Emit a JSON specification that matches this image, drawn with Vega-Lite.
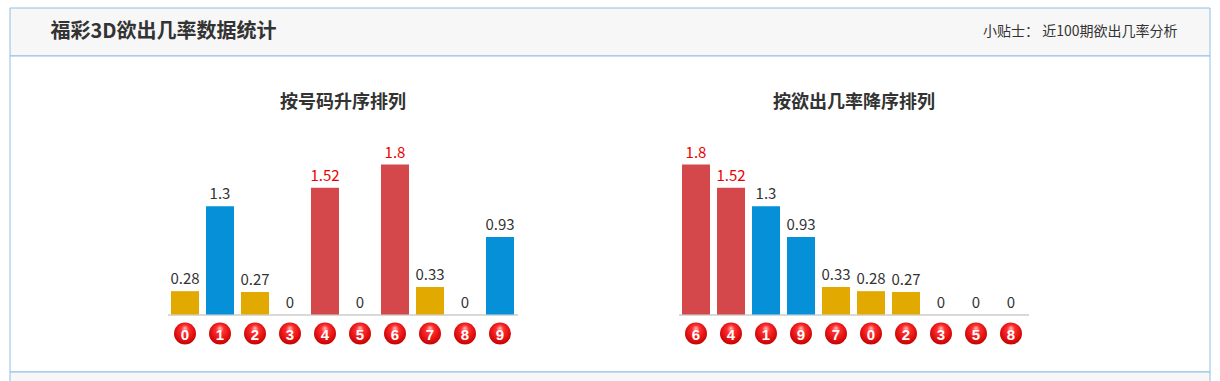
{
  "$schema": "https://vega.github.io/schema/vega-lite/v6.json",
  "padding": {"left": 8.5, "top": 6.5, "right": 0, "bottom": 0},
  "background": "white",
  "spacing": 0,
  "bounds": "flush",
  "config": {"font": "Noto Sans CJK SC", "view": {"stroke": null}},
  "datasets": {
    "d": [
      {"num": "0", "p": 0.28},
      {"num": "1", "p": 1.3},
      {"num": "2", "p": 0.27},
      {"num": "3", "p": 0},
      {"num": "4", "p": 1.52},
      {"num": "5", "p": 0},
      {"num": "6", "p": 1.8},
      {"num": "7", "p": 0.33},
      {"num": "8", "p": 0},
      {"num": "9", "p": 0.93}
    ]
  },
  "vconcat": [
    {
      "width": 1200,
      "height": 48,
      "view": {"fill": "#f7f7f7", "stroke": "#8fbfe6"},
      "data": {"values": [
        {"t": "福彩3D欲出几率数据统计", "side": "L"},
        {"t": "小贴士： 近100期欲出几率分析", "side": "R"}
      ]},
      "encoding": {
        "x": {"field": "side", "type": "nominal", "scale": {"type": "point", "domain": ["L", "R"], "range": [41, 1168], "padding": 0}, "axis": null},
        "text": {"field": "t"}
      },
      "layer": [
        {"transform": [{"filter": "datum.side === 'L'"}],
         "mark": {"type": "text", "align": "left", "baseline": "middle", "fontSize": 20, "fontWeight": "bold", "color": "#333333"}},
        {"transform": [{"filter": "datum.side === 'R'"}],
         "mark": {"type": "text", "align": "right", "baseline": "middle", "fontSize": 14, "color": "#333333"}}
      ]
    },
    {
      "width": 1200,
      "height": 316,
      "view": {"fill": "white", "stroke": "#8fbfe6"},
      "data": {"name": "d"},
      "resolve": {"scale": {"x": "independent"}, "axis": {"x": "independent"}},
      "layer": [
        {
          "encoding": {
            "x": {"field": "num", "type": "nominal",
              "scale": {"type": "band", "range": [158, 508], "paddingInner": 0.2, "paddingOuter": 0.1},
              "axis": {"orient": "bottom", "offset": -57, "ticks": false, "labels": false, "grid": false,
                "domainColor": "#cccccc", "domainWidth": 1.5,
                "title": "按号码升序排列", "titleFontSize": 18, "titleFontWeight": "bold", "titleColor": "#333333",
                "titleY": -212, "titleBaseline": "middle", "titleFont": "Noto Sans CJK SC"}},
            "y": {"field": "p", "type": "quantitative", "scale": {"domain": [0, 1.8], "range": [259, 109]}, "axis": null}
          },
          "layer": [
            {"mark": {"type": "bar"},
             "encoding": {"color": {"condition": [{"test": "datum.p >= 1.5", "value": "#d4474a"}, {"test": "datum.p >= 0.5", "value": "#0590d7"}], "value": "#e2a900"}}},
            {"mark": {"type": "text", "dy": -7, "baseline": "alphabetic", "fontSize": 15},
             "encoding": {"text": {"field": "p", "type": "nominal"},
               "color": {"condition": {"test": "datum.p >= 1.5", "value": "#ee0000"}, "value": "#333333"}}},
            {"mark": {"type": "point", "shape": "circle", "filled": true, "size": 484, "opacity": 1, "yOffset": 19,
               "fill": {"gradient": "radial", "x1": 0.5, "y1": 0.25, "r1": 0, "x2": 0.5, "y2": 0.45, "r2": 0.6,
                 "stops": [{"offset": 0, "color": "#ffc0c0"}, {"offset": 0.3, "color": "#ff3030"}, {"offset": 0.7, "color": "#e01010"}, {"offset": 1, "color": "#b80000"}]}},
             "encoding": {"y": {"datum": 0}}},
            {"mark": {"type": "text", "yOffset": 19, "dy": 1, "baseline": "middle", "fontWeight": "bold", "fontSize": 15, "color": "white", "font": "Liberation Sans"},
             "encoding": {"y": {"datum": 0}, "text": {"field": "num"}}}
          ]
        },
        {
          "encoding": {
            "x": {"field": "num", "type": "nominal", "sort": ["6", "4", "1", "9", "7", "0", "2", "3", "5", "8"],
              "scale": {"type": "band", "range": [669, 1019], "paddingInner": 0.2, "paddingOuter": 0.1},
              "axis": {"orient": "bottom", "offset": -57, "ticks": false, "labels": false, "grid": false,
                "domainColor": "#cccccc", "domainWidth": 1.5,
                "title": "按欲出几率降序排列", "titleFontSize": 18, "titleFontWeight": "bold", "titleColor": "#333333",
                "titleY": -212, "titleBaseline": "middle", "titleFont": "Noto Sans CJK SC"}},
            "y": {"field": "p", "type": "quantitative", "scale": {"domain": [0, 1.8], "range": [259, 109]}, "axis": null}
          },
          "layer": [
            {"mark": {"type": "bar"},
             "encoding": {"color": {"condition": [{"test": "datum.p >= 1.5", "value": "#d4474a"}, {"test": "datum.p >= 0.5", "value": "#0590d7"}], "value": "#e2a900"}}},
            {"mark": {"type": "text", "dy": -7, "baseline": "alphabetic", "fontSize": 15},
             "encoding": {"text": {"field": "p", "type": "nominal"},
               "color": {"condition": {"test": "datum.p >= 1.5", "value": "#ee0000"}, "value": "#333333"}}},
            {"mark": {"type": "point", "shape": "circle", "filled": true, "size": 484, "opacity": 1, "yOffset": 19,
               "fill": {"gradient": "radial", "x1": 0.5, "y1": 0.25, "r1": 0, "x2": 0.5, "y2": 0.45, "r2": 0.6,
                 "stops": [{"offset": 0, "color": "#ffc0c0"}, {"offset": 0.3, "color": "#ff3030"}, {"offset": 0.7, "color": "#e01010"}, {"offset": 1, "color": "#b80000"}]}},
             "encoding": {"y": {"datum": 0}}},
            {"mark": {"type": "text", "yOffset": 19, "dy": 1, "baseline": "middle", "fontWeight": "bold", "fontSize": 15, "color": "white", "font": "Liberation Sans"},
             "encoding": {"y": {"datum": 0}, "text": {"field": "num"}}}
          ]
        }
      ]
    },
    {
      "width": 1200,
      "height": 12,
      "view": {"fill": "#f7f7f7", "stroke": "#8fbfe6"},
      "data": {"values": []},
      "mark": "rect",
      "encoding": {}
    }
  ]
}
